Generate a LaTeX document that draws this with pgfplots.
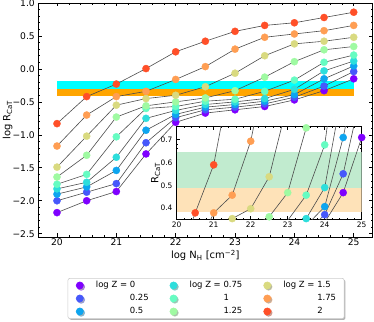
\documentclass[border=0pt]{standalone}
\usepackage{fontspec}
\setmainfont{DejaVu Sans}
\usepackage{pgfplots}
\pgfplotsset{compat=1.18}
\usepackage{pgfplotstable}
\usetikzlibrary{shadows}

% rainbow colormap samples, log Z = 0 ... 2
\definecolor{cz0}{RGB}{127,0,255}
\definecolor{cz025}{RGB}{70,88,251}
\definecolor{cz05}{RGB}{13,165,239}
\definecolor{cz075}{RGB}{45,222,220}
\definecolor{cz1}{RGB}{102,252,194}
\definecolor{cz125}{RGB}{159,250,162}
\definecolor{cz15}{RGB}{217,218,128}
\definecolor{cz175}{RGB}{255,158,83}
\definecolor{cz2}{RGB}{255,79,40}
\definecolor{bandcyan}{RGB}{0,255,255}
\definecolor{bandorange}{RGB}{255,165,0}
\definecolor{palegreen}{RGB}{193,235,207}
\definecolor{paleorange}{RGB}{254,226,184}

% log R_CaT against log N_H
\pgfplotstableread{
x    z0    z025  z05   z075  z1    z125   z15    z175  z2
20   -2.18 -2.00 -1.90 -1.82 -1.75 -1.64  -1.49  -1.17 -0.83
20.5 -2.00 -1.87 -1.79 -1.72 -1.60 -1.31  -1.02  -0.70 -0.42
21   -1.86 -1.74 -1.54 -1.34 -1.03 -0.73  -0.55  -0.42 -0.23
21.5 -1.29 -1.12 -0.93 -0.75 -0.60 -0.56  -0.45  -0.34 0.005
22   -0.81 -0.74 -0.69 -0.63 -0.57 -0.50  -0.40  -0.16 0.26
22.5 -0.67 -0.62 -0.58 -0.54 -0.49 -0.44  -0.27  0.035 0.42
23   -0.62 -0.58 -0.54 -0.50 -0.46 -0.33  -0.065 0.30  0.57
23.5 -0.57 -0.53 -0.49 -0.45 -0.34 -0.125 0.20   0.48  0.66
24   -0.47 -0.43 -0.39 -0.31 -0.17 0.11   0.38   0.53  0.70
24.5 -0.33 -0.26 -0.15 -0.03 0.10  0.29   0.42   0.58  0.78
25   -0.15 -0.04 0.045 0.12  0.21  0.34   0.48   0.66  0.86
}\logR

% the same points as R_CaT (linear), for the inset
\pgfplotstableread{
x    z0     z025   z05    z075   z1     z125   z15    z175   z2
20   0.0066 0.0100 0.0126 0.0151 0.0178 0.0229 0.0324 0.0676 0.148
20.5 0.0100 0.0135 0.0162 0.0191 0.0251 0.0490 0.0955 0.1995 0.380
21   0.0138 0.0182 0.0288 0.0457 0.0933 0.186  0.282  0.380  0.589
21.5 0.0513 0.0759 0.1175 0.178  0.251  0.275  0.355  0.457  1.012
22   0.155  0.182  0.204  0.234  0.269  0.316  0.398  0.692  1.820
22.5 0.214  0.240  0.263  0.288  0.324  0.363  0.537  1.084  2.630
23   0.240  0.263  0.288  0.316  0.347  0.468  0.861  1.995  3.715
23.5 0.269  0.295  0.324  0.355  0.457  0.750  1.585  3.020  4.571
24   0.339  0.372  0.407  0.490  0.676  1.288  2.399  3.388  5.012
24.5 0.468  0.550  0.708  0.933  1.259  1.950  2.630  3.802  6.026
25   0.708  0.912  1.109  1.318  1.622  2.188  3.020  4.571  7.244
}\linR

\pgfplotsset{
  connect/.style={forget plot, no marks, color=black!70, line width=0.6bp},
  dots/.style={forget plot, only marks, mark=*, mark size=3.6bp,
    mark options={line width=0.3bp}},
}

\begin{document}
\begin{tikzpicture}
\path[use as bounding box] (0bp,0bp) rectangle (374bp,322bp);

\begin{axis}[
  at={(38bp,85bp)}, anchor=south west,
  scale only axis, width=334.7bp, height=234bp,
  xmin=19.68, xmax=25.32, ymin=-2.55, ymax=1.0,
  xtick={20,21,22,23,24,25},
  xticklabels={20,21,22,23,24,25},
  ytick={-2.5,-2,-1.5,-1,-0.5,0,0.5,1},
  yticklabels={−2.5,−2.0,−1.5,−1.0,−0.5,0.0,0.5,1.0},
  minor x tick num=4, minor y tick num=4,
  tick align=inside, tick pos=both,
  major tick length=3.5bp, minor tick length=2bp,
  tick style={black, line width=0.6bp},
  axis line style={line width=0.8bp},
  tick label style={font=\fontsize{9.2}{10}\selectfont},
  xticklabel style={inner sep=1.6bp},
  yticklabel style={inner sep=3bp},
  xlabel={log N\textsubscript{H} [cm\textsuperscript{−2}]},
  ylabel={log R\textsubscript{CaT}},
  label style={font=\fontsize{9.8}{11}\selectfont},
  every axis x label/.style={at={(axis description cs:0.5,-0.094)}, anchor=base},
  every axis y label/.style={at={(axis description cs:-0.0822,0.5)}, anchor=base, rotate=90},
  legend columns=3,
  legend image code/.code={\fill[#1] (3.6bp,0bp) circle (3.6bp);},
  legend style={at={(0.502,-0.2628)}, anchor=center,
    draw=black!20, line width=0.6bp, rounded corners=2bp, fill=white,
    drop shadow={shadow xshift=1.3bp, shadow yshift=-1.3bp, opacity=0.5, fill=black!60},
    inner xsep=8bp, inner ysep=2.4bp, row sep=3.6bp,
    font=\fontsize{8.5}{9}\selectfont,
    nodes={inner xsep=0pt, inner ysep=0.5bp, text height=6.4bp, text depth=2bp, anchor=west},
    /tikz/every odd column/.style={column sep=12.2bp},
    /tikz/every even column/.style={column sep=21bp}},
]
% reference bands
\addplot[forget plot, fill=bandcyan, draw=none] coordinates {(20,-0.19) (25,-0.19) (25,-0.31) (20,-0.31)} -- cycle;
\addplot[forget plot, fill=bandorange, draw=none] coordinates {(20,-0.31) (25,-0.31) (25,-0.41) (20,-0.41)} -- cycle;

\pgfplotsinvokeforeach{z0,z025,z05,z075,z1,z125,z15,z175,z2}{
  \addplot[connect] table[x=x, y=#1] {\logR};
}
\pgfplotsinvokeforeach{z0,z025,z05,z075,z1,z125,z15,z175,z2}{
  \addplot[dots, color=c#1] table[x=x, y=#1] {\logR};
}

\addlegendimage{color=cz0}   \addlegendentry{log Z = 0}
\addlegendimage{color=cz075} \addlegendentry{log Z = 0.75}
\addlegendimage{color=cz15}  \addlegendentry{log Z = 1.5}
\addlegendimage{color=cz025} \addlegendentry{\phantom{log Z = }0.25}
\addlegendimage{color=cz1}   \addlegendentry{\phantom{log Z = }1}
\addlegendimage{color=cz175} \addlegendentry{\phantom{log Z = }1.75}
\addlegendimage{color=cz05}  \addlegendentry{\phantom{log Z = }0.5}
\addlegendimage{color=cz125} \addlegendentry{\phantom{log Z = }1.25}
\addlegendimage{color=cz2}   \addlegendentry{\phantom{log Z = }2}
\end{axis}

% inset: linear R_CaT
\begin{axis}[
  at={(176.7bp,102.7bp)}, anchor=south west,
  scale only axis, width=185bp, height=92.6bp,
  axis background/.style={fill=white},
  xmin=20, xmax=25, ymin=0.352, ymax=0.755,
  xtick={20,21,22,23,24,25},
  xticklabels={20,21,22,23,24,25},
  ytick={0.4,0.5,0.6,0.7},
  yticklabels={0.4,0.5,0.6,0.7},
  minor x tick num=4, minor y tick num=4,
  tick align=inside, tick pos=both,
  major tick length=3bp, minor tick length=1.7bp,
  tick style={black, line width=0.5bp},
  axis line style={line width=0.7bp},
  tick label style={font=\fontsize{7.5}{8}\selectfont},
  xticklabel style={inner sep=2.4bp},
  yticklabel style={inner sep=4bp},
  ylabel={R\textsubscript{CaT}},
  label style={font=\fontsize{7.5}{8}\selectfont},
  every axis y label/.style={at={(axis description cs:-0.0995,0.5)}, anchor=base, rotate=90},
]
\addplot[forget plot, fill=palegreen, draw=none] coordinates {(20,0.645) (25,0.645) (25,0.487) (20,0.487)} -- cycle;
\addplot[forget plot, fill=paleorange, draw=none] coordinates {(20,0.487) (25,0.487) (25,0.382) (20,0.382)} -- cycle;

\pgfplotsinvokeforeach{z0,z025,z05,z075,z1,z125,z15,z175,z2}{
  \addplot[connect] table[x=x, y=#1] {\linR};
}
\pgfplotsinvokeforeach{z0,z025,z05,z075,z1,z125,z15,z175,z2}{
  \addplot[dots, color=c#1] table[x=x, y=#1] {\linR};
}
\end{axis}
\end{tikzpicture}
\end{document}
